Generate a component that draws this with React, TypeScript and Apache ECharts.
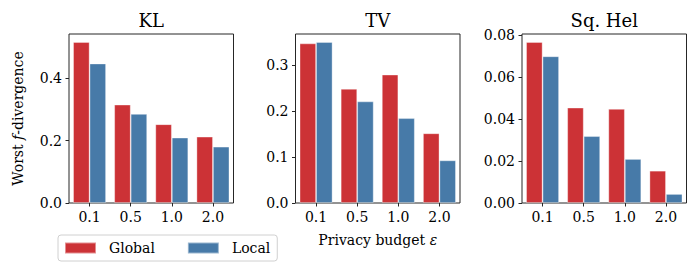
import React, { useEffect, useRef } from "react";
import * as echarts from "echarts";

const categories = ["0.1", "0.5", "1.0", "2.0"];
const panelTitles = ["KL", "TV", "Sq. Hel"];
const seriesNames = ["Global", "Local"];

const klGlobal = [0.517, 0.316, 0.253, 0.213];
const klLocal = [0.448, 0.286, 0.21, 0.181];
const tvGlobal = [0.348, 0.249, 0.28, 0.152];
const tvLocal = [0.351, 0.2215, 0.185, 0.093];
const helGlobal = [0.0768, 0.0455, 0.0449, 0.0154];
const helLocal = [0.07, 0.0319, 0.021, 0.0043];

const klTicks = [0, 0.2, 0.4];
const tvTicks = [0, 0.1, 0.2, 0.3];
const helTicks = [0, 0.02, 0.04, 0.06, 0.08];

const RED = "#cc3236";
const BLUE = "#477aa8";
const FONT = "DejaVu Serif";
const TXT = "#000000";

export default function App() {
  const ref = useRef<HTMLDivElement>(null);
  useEffect(() => {
    if (!ref.current) return;
    const chart = echarts.init(ref.current, undefined, { renderer: "svg" });
    const panels = [
      { g: klGlobal, l: klLocal, ticks: klTicks, dec: 1 },
      { g: tvGlobal, l: tvLocal, ticks: tvTicks, dec: 1 },
      { g: helGlobal, l: helLocal, ticks: helTicks, dec: 2 },
    ];
    const lefts = [69, 295.5, 522];
    const W = 164.5;
    const top = 34;
    const H = 169;
    const grid = lefts.map((left) => ({
      left,
      top,
      width: W,
      height: H,
      show: true,
      borderColor: "#262626",
      borderWidth: 1,
      backgroundColor: "transparent",
    }));
    const xAxis = panels.map((_, i) => ({
      type: "category",
      gridIndex: i,
      data: categories,
      boundaryGap: true,
      axisLine: { show: false },
      axisTick: { show: true, alignWithLabel: true, length: 3.5, lineStyle: { color: "#262626", width: 1 } },
      axisLabel: { color: TXT, fontFamily: FONT, fontSize: 14, margin: 7, interval: 0 },
      ...(i === 1
        ? {
            name: "{n|Privacy budget }{e|ε}",
            nameLocation: "middle",
            nameGap: 30,
            nameTextStyle: {
              rich: {
                n: { fontFamily: FONT, fontSize: 14, color: TXT },
                e: { fontFamily: FONT, fontSize: 14, color: TXT, fontStyle: "italic" },
              },
            },
          }
        : {}),
    }));
    const yAxis = panels.map((p, i) => ({
      type: "value",
      gridIndex: i,
      min: 0,
      max: Math.max(...p.g, ...p.l) * 1.05,
      splitLine: { show: false },
      axisLine: { show: false },
      axisTick: { show: true, length: 3.5, customValues: p.ticks, lineStyle: { color: "#262626", width: 1 } },
      axisLabel: {
        color: TXT,
        fontFamily: FONT,
        fontSize: 14,
        margin: 7,
        customValues: p.ticks,
        formatter: (v: number) => v.toFixed(p.dec),
      },
      ...(i === 0
        ? {
            name: "{n|Worst }{f|f}{n|-divergence}",
            nameLocation: "middle",
            nameRotate: 90,
            nameGap: 44,
            nameTextStyle: {
              rich: {
                n: { fontFamily: FONT, fontSize: 14, color: TXT },
                f: { fontFamily: FONT, fontSize: 14, color: TXT, fontStyle: "italic" },
              },
            },
          }
        : {}),
    }));
    const series: any[] = [];
    panels.forEach((p, i) => {
      [p.g, p.l].forEach((vals, k) => {
        series.push({
          type: "bar",
          name: seriesNames[k],
          xAxisIndex: i,
          yAxisIndex: i,
          data: vals,
          barGap: "0%",
          barCategoryGap: "20%",
          itemStyle: {
            color: k === 0 ? RED : BLUE,
            borderColor: "rgba(255,255,255,0.45)",
            borderWidth: 0.8,
          },
        });
      });
    });
    const graphic = panelTitles.map((t, i) => ({
      type: "text",
      x: lefts[i] + W / 2,
      y: 20,
      style: {
        text: t,
        fontFamily: FONT,
        fontSize: 18,
        fill: TXT,
        textAlign: "center",
        textVerticalAlign: "middle",
      },
    }));
    chart.setOption({
      animation: false,
      backgroundColor: "#ffffff",
      textStyle: { fontFamily: FONT, color: TXT },
      grid,
      xAxis,
      yAxis,
      series,
      graphic,
      legend: {
        data: seriesNames,
        left: 58,
        top: 235,
        orient: "horizontal",
        icon: "rect",
        itemWidth: 31,
        itemHeight: 11,
        itemGap: 32,
        padding: [6, 7, 6, 6],
        backgroundColor: "#ffffff",
        borderColor: "#d0d0d0",
        borderWidth: 1,
        borderRadius: 3,
        textStyle: { fontFamily: FONT, fontSize: 14, color: TXT, lineHeight: 14, padding: [0, 0, 0, 8] },
      },
    });
    return () => chart.dispose();
  }, []);
  return <div ref={ref} style={{ position: "fixed", left: 0, top: 0, width: 697, height: 274 }} />;
}
